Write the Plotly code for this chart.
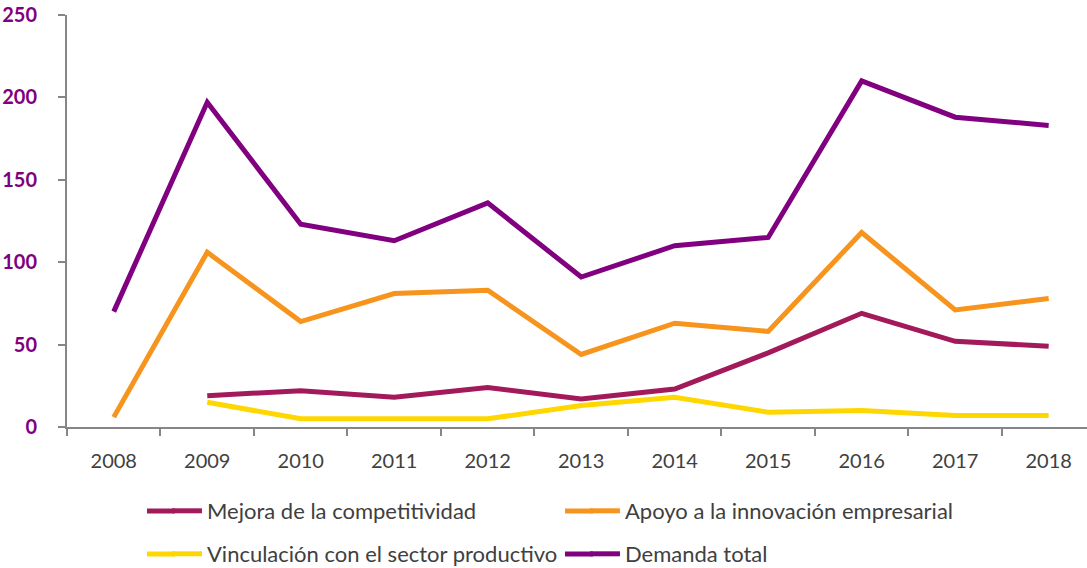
import plotly.graph_objects as go

years = ["2008", "2009", "2010", "2011", "2012", "2013", "2014", "2015", "2016", "2017", "2018"]
mejora = [None, 19, 22, 18, 24, 17, 23, 45, 69, 52, 49]
apoyo = [6, 106, 64, 81, 83, 44, 63, 58, 118, 71, 78]
vinculacion = [None, 15, 5, 5, 5, 13, 18, 9, 10, 7, 7]
demanda = [70, 197, 123, 113, 136, 91, 110, 115, 210, 188, 183]

names = ["Mejora de la competitividad", "Apoyo a la innovación empresarial",
         "Vinculación con el sector productivo", "Demanda total"]
colors = ["#A31A5B", "#F7941D", "#FFD700", "#800080"]
series = [mejora, apoyo, vinculacion, demanda]
legends = ["legend", "legend", "legend2", "legend2"]

W, H = 1087, 568
L, R, T, B = 67, 0, 15, 141
PW, PH = W - L - R, H - T - B

fig = go.Figure()
for n, c, s, lg in zip(names, colors, series, legends):
    fig.add_trace(go.Scatter(x=years, y=s, name=n, mode="lines",
                             line=dict(color=c, width=5), legend=lg,
                             connectgaps=False))

# extend legend sample lines to the left (the reference uses longer swatches)
row_y = [511, 511, 554, 554]
col_x = [147, 565, 147, 565]
for c, ry, cx in zip(colors, row_y, col_x):
    fig.add_shape(type="line", xref="paper", yref="paper",
                  x0=(cx - L) / PW, x1=(cx + 28 - L) / PW,
                  y0=(H - B - ry) / PH, y1=(H - B - ry) / PH,
                  line=dict(color=c, width=5))

font_family = "Lato, 'Open Sans', sans-serif"
fig.update_layout(
    width=W, height=H,
    margin=dict(l=L, r=R, t=T, b=B),
    plot_bgcolor="white", paper_bgcolor="white",
    font=dict(family=font_family, color="#404040", size=20),
    xaxis=dict(type="category", range=[-0.5, 10.41], showline=True, automargin=False,
               linecolor="#868686", linewidth=2, ticks="outside", tickson="boundaries",
               ticklen=7, tickcolor="#868686", tickwidth=2, showgrid=False,
               tickfont=dict(size=20, color="#404040"), ticklabelstandoff=15),
    yaxis=dict(range=[0, 250], dtick=50, showline=True, linecolor="#868686", linewidth=2,
               ticks="outside", ticklen=7, tickcolor="#868686", tickwidth=2, automargin=False,
               showgrid=False, zeroline=False,
               tickfont=dict(size=20, color="#800080", weight="bold"),
               ticklabelstandoff=17),
    legend=dict(orientation="h", x=0.098, y=1 - 511 / 568, yref="container",
                xanchor="left", yanchor="middle",
                entrywidth=373, entrywidthmode="pixels",
                font=dict(size=22, color="#404040"), bgcolor="rgba(0,0,0,0)"),
    legend2=dict(orientation="h", x=0.098, y=1 - 554 / 568, yref="container",
                 xanchor="left", yanchor="middle",
                 entrywidth=373, entrywidthmode="pixels",
                 font=dict(size=22, color="#404040"), bgcolor="rgba(0,0,0,0)"),
)

fig.write_html("out.html", config={"displayModeBar": False},
               post_script="document.body.style.margin='0';")
